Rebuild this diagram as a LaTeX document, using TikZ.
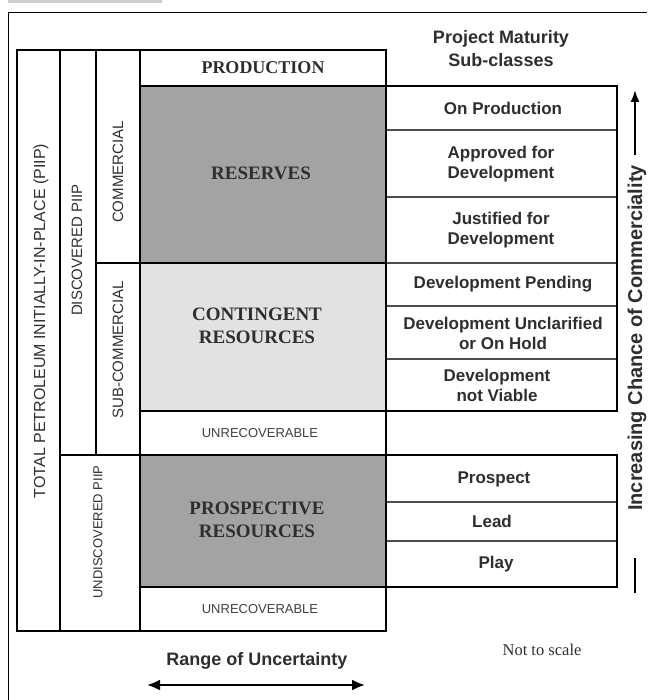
\documentclass[tikz,border=0pt]{standalone}
\usepackage{fontspec}
\setmainfont{Liberation Serif}
\setsansfont{Liberation Sans}
\usetikzlibrary{arrows.meta}

\definecolor{resgray}{HTML}{A3A3A3}
\definecolor{contgray}{HTML}{E2E2E2}
\definecolor{inkgray}{HTML}{2E2E2E}

\begin{document}
\begin{tikzpicture}[x=1pt,y=-1pt,
    heavy/.style={line width=2.6pt},
    subline/.style={line width=1.1pt,black!70},
    bigclass/.style={font=\rmfamily\bfseries\fontsize{19}{23}\selectfont,text=inkgray,align=center},
    unrec/.style={font=\sffamily\fontsize{13}{15}\selectfont,text=black!75},
    sidelabel/.style={font=\sffamily\fontsize{15}{17}\selectfont,text=inkgray,rotate=90},
    subclass/.style={font=\sffamily\bfseries\fontsize{17}{20}\selectfont,text=inkgray,align=center},
    headline/.style={font=\sffamily\bfseries\fontsize{18}{23}\selectfont,text=inkgray,align=center}]
    \useasboundingbox (0,0) rectangle (647,700);

    % page frame
    \fill [black!20] (8,0) rectangle (162,3);
    \draw [line width=1.3pt] (8.5,700) -- (8.5,12.5) -- (647,12.5);

    % shaded classes
    \fill [resgray] (140,86) rectangle (386,263);
    \fill [contgray] (140,263) rectangle (386,411);
    \fill [resgray] (140,455) rectangle (386,587);

    % main table
    \draw [heavy] (17,50) rectangle (386,631);
    \draw [heavy] (60,50) -- (60,631);
    \draw [heavy] (96,50) -- (96,455);
    \draw [heavy] (140,50) -- (140,631);
    \draw [heavy] (140,86) -- (386,86);
    \draw [heavy] (96,263) -- (386,263);
    \draw [heavy] (140,411) -- (386,411);
    \draw [heavy] (60,455) -- (386,455);
    \draw [heavy] (140,587) -- (386,587);

    % sub-class boxes
    \foreach \y in {130,197,263,306,359,502,541}
      \draw [subline] (386,\y) -- (617,\y);
    \draw [heavy] (386,86) rectangle (617,411);
    \draw [heavy] (386,455) rectangle (617,587);

    % class names
    \node (prod) [bigclass,font=\rmfamily\bfseries\fontsize{18}{20}\selectfont] at (263,68) {PRODUCTION};
    \node (res) [bigclass] at (261,173) {RESERVES};
    \node (cont) [bigclass] at (257,326) {CONTINGENT\\RESOURCES};
    \node (unrecA) [unrec] at (260,433) {UNRECOVERABLE};
    \node (prosp) [bigclass] at (257,520) {PROSPECTIVE\\RESOURCES};
    \node (unrecB) [unrec] at (260,609) {UNRECOVERABLE};

    % side labels
    \node (piip) [sidelabel,font=\sffamily\fontsize{16}{18}\selectfont] at (41,321) {TOTAL PETROLEUM INITIALLY-IN-PLACE (PIIP)};
    \node (disc) [sidelabel] at (77,250) {DISCOVERED PIIP};
    \node (undisc) [sidelabel,font=\sffamily\fontsize{13}{15}\selectfont] at (98,532) {UNDISCOVERED PIIP};
    \node (comm) [sidelabel] at (118,172) {COMMERCIAL};
    \node (subcomm) [sidelabel] at (118,350) {SUB-COMMERCIAL};

    % project maturity sub-classes
    \node (maturity) [headline] at (501,49) {Project Maturity\\Sub-classes};
    \node (onprod) [subclass] at (503,108) {On Production};
    \node (approved) [subclass] at (501,164) {Approved for\\Development};
    \node (justified) [subclass] at (501,230) {Justified for\\Development};
    \node (pending) [subclass] at (503,284) {Development Pending};
    \node (onhold) [subclass] at (503,333) {Development Unclarified\\or On Hold};
    \node (notviable) [subclass] at (497,385) {Development\\not Viable};
    \node (prospect) [subclass] at (494,479) {Prospect};
    \node (lead) [subclass] at (492,521) {Lead};
    \node (play) [subclass] at (496,564) {Play};

    % range of uncertainty
    \node (uncert) [headline,anchor=base] at (257,665) {Range of Uncertainty};
    \coordinate (uncL) at (147,685);
    \coordinate (uncR) at (365,685);
    \draw [line width=2.2pt,{Latex[length=13pt,width=11pt]}-{Latex[length=13pt,width=11pt]}] (uncL) -- (uncR);

    \node (scale) [font=\rmfamily\fontsize{16.5}{18}\selectfont,text=inkgray,anchor=base] at (542,655) {Not to scale};

    % chance of commerciality
    \coordinate (chTop) at (635,90);
    \coordinate (chShaft) at (635,155);
    \coordinate (chStub) at (635,558);
    \coordinate (chBot) at (635,593);
    \draw [line width=2pt,-{Latex[length=12pt,width=9pt]}] (chShaft) -- (chTop);
    \draw [line width=2pt] (chBot) -- (chStub);
    \node (chance) [headline,font=\sffamily\bfseries\fontsize{20}{22}\selectfont,rotate=90,anchor=base,inner sep=0pt] at (642,338) {Increasing Chance of Commerciality};
  \end{tikzpicture}
\end{document}
